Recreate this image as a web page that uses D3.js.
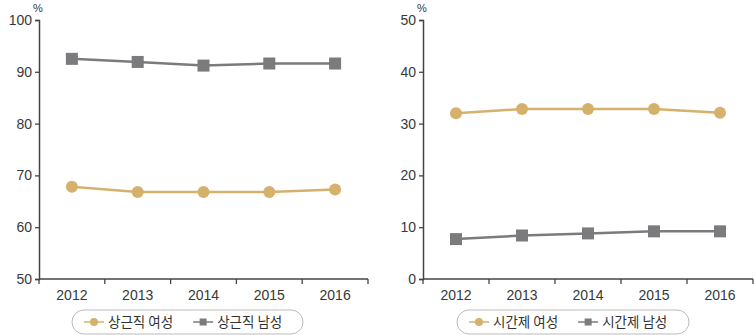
<!DOCTYPE html>
<html>
<head>
<meta charset="utf-8">
<script src="https://cdn.jsdelivr.net/npm/d3@7"></script>
<style>
  body { margin: 0; background: #fff; }
  svg { display: block; font-family: "Noto Sans CJK KR", "Liberation Sans", sans-serif; }
</style>
</head>
<body>
<div id="chart"></div>
<script>
// Data
const years = ["2012", "2013", "2014", "2015", "2016"];
const fullWomen = [67.8, 66.8, 66.8, 66.8, 67.3];
const fullMen = [92.5, 91.9, 91.2, 91.6, 91.6];
const partWomen = [32.0, 32.8, 32.8, 32.8, 32.1];
const partMen = [7.7, 8.4, 8.8, 9.2, 9.2];
const leftTicks = [50, 60, 70, 80, 90, 100];
const rightTicks = [0, 10, 20, 30, 40, 50];

const gold = "#d6b16c";
const grey = "#7b7b7e";

const width = 754, height = 335;
const svg = d3.select("#chart").append("svg")
    .attr("width", width)
    .attr("height", height);

function drawPanel(opts) {
    const g = svg.append("g");
    const x = d3.scaleBand().domain(years).range([opts.x0, opts.x1]);
    const y = d3.scaleLinear().domain(opts.domain).range([279, 20]);

    // y axis
    const ya = g.append("g")
        .attr("transform", `translate(${opts.x0},0)`)
        .call(d3.axisLeft(y).tickValues(opts.ticks).tickSize(4).tickPadding(3));
    // x axis
    const xa = g.append("g")
        .attr("transform", `translate(0,279)`)
        .call(d3.axisBottom(x).tickSize(0).tickPadding(11));
    xa.selectAll(".tick line").remove();
    // ticks at band edges
    const edges = years.map(d => x(d)).concat([opts.x1]);
    xa.selectAll(".edge").data(edges).join("line")
        .attr("x1", d => d).attr("x2", d => d)
        .attr("y1", 0).attr("y2", 5)
        .attr("stroke", "#444").attr("stroke-width", 1.3);

    [ya, xa].forEach(a => {
        a.select(".domain").attr("stroke", "#444").attr("stroke-width", 1.5);
        a.selectAll(".tick line").attr("stroke", "#444").attr("stroke-width", 1.3);
        a.selectAll("text").attr("fill", "#383838").attr("font-size", 14)
            .attr("font-family", "'Liberation Sans', sans-serif");
    });
    xa.select(".domain").attr("d", `M${opts.x0},0H${opts.x1}`);

    g.append("text")
        .attr("x", opts.x0 - 6).attr("y", 12)
        .attr("font-size", 11).attr("fill", "#383838")
        .attr("font-family", "'Liberation Sans', sans-serif")
        .text("%");

    const cx = d => x(d) + x.bandwidth() / 2;
    const line = d3.line().x((d, i) => cx(years[i])).y(d => y(d));

    opts.series.forEach(s => {
        g.append("path").datum(s.values)
            .attr("fill", "none").attr("stroke", s.color)
            .attr("stroke-width", 2.5).attr("d", line);
        if (s.shape === "circle") {
            g.selectAll(null).data(s.values).join("circle")
                .attr("cx", (d, i) => cx(years[i])).attr("cy", d => y(d))
                .attr("r", 6).attr("fill", s.color);
        } else {
            g.selectAll(null).data(s.values).join("rect")
                .attr("x", (d, i) => cx(years[i]) - 6).attr("y", d => y(d) - 6)
                .attr("width", 12).attr("height", 12).attr("fill", s.color);
        }
    });

    // legend pill
    const lg = g.append("g").attr("transform", `translate(${opts.legendX},310)`);
    lg.append("rect")
        .attr("x", 0).attr("y", 0).attr("width", opts.legendW).attr("height", 24)
        .attr("rx", 12).attr("fill", "#fff").attr("stroke", "#bbb").attr("stroke-width", 1);
    let lx = 12;
    opts.series.slice().sort((a, b) => a.order - b.order).forEach(s => {
        lg.append("line").attr("x1", lx).attr("x2", lx + 20).attr("y1", 12).attr("y2", 12)
            .attr("stroke", s.color).attr("stroke-width", 1.5);
        if (s.shape === "circle") {
            lg.append("circle").attr("cx", lx + 10).attr("cy", 12).attr("r", 4).attr("fill", s.color);
        } else {
            lg.append("rect").attr("x", lx + 6.5).attr("y", 8.5).attr("width", 7).attr("height", 7).attr("fill", s.color);
        }
        const t = lg.append("text").attr("x", lx + 24).attr("y", 17)
            .attr("font-size", 13.5).attr("fill", "#333").text(s.name);
        lx += 24 + t.node().getComputedTextLength() + 20;
    });
}

drawPanel({
    x0: 39, x1: 368, domain: [50, 100], ticks: leftTicks,
    legendX: 72, legendW: 231,
    series: [
        { name: "상근직 남성", values: fullMen, color: grey, shape: "square", order: 2 },
        { name: "상근직 여성", values: fullWomen, color: gold, shape: "circle", order: 1 }
    ]
});

drawPanel({
    x0: 423, x1: 753, domain: [0, 50], ticks: rightTicks,
    legendX: 457, legendW: 232,
    series: [
        { name: "시간제 여성", values: partWomen, color: gold, shape: "circle", order: 1 },
        { name: "시간제 남성", values: partMen, color: grey, shape: "square", order: 2 }
    ]
});
</script>
</body>
</html>
